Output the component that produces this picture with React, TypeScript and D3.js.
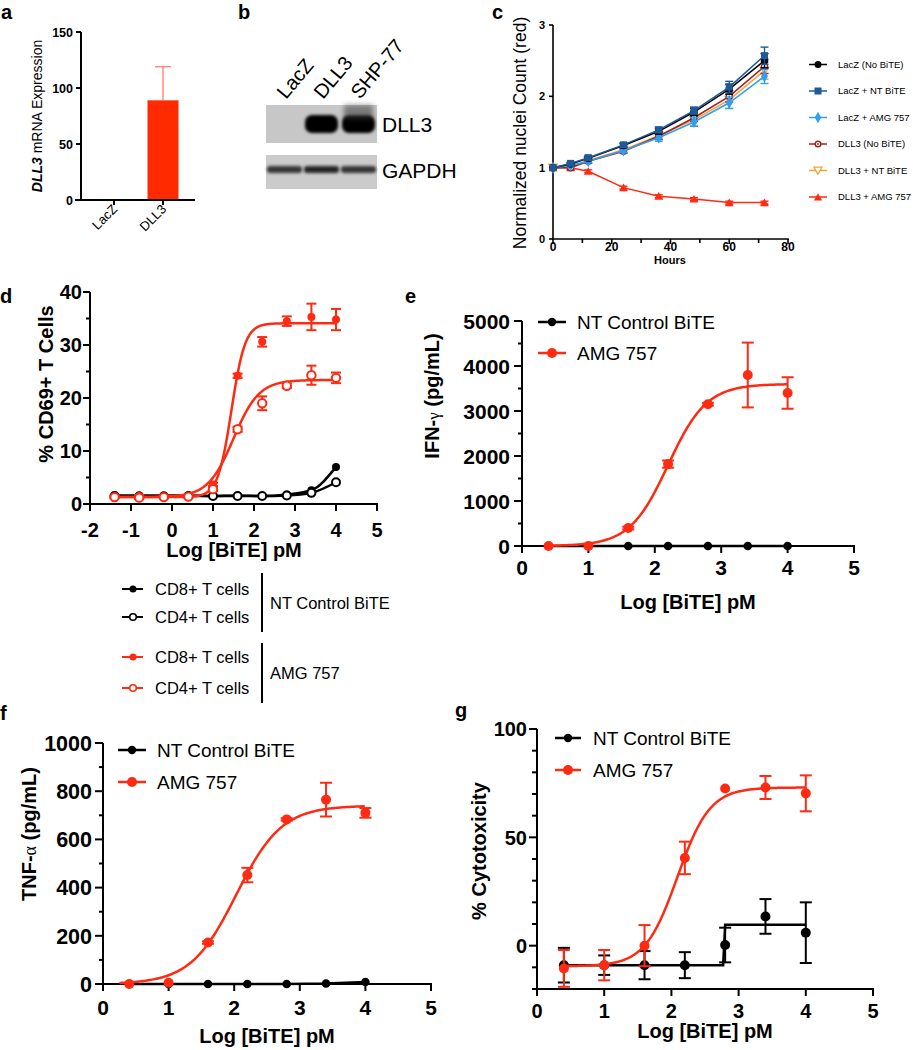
import React from 'react';
import * as d3 from 'd3';

const FONT = '"Liberation Sans", Arial, Helvetica, sans-serif';
const RED = '#ff2a12';
const BLK = '#000000';

// ---------- Panel a : DLL3 mRNA expression
const aCategories = ['LacZ', 'DLL3'];
const aValues = [0.8, 89];
const aErrors = [0, 30];
const aTicks = [0, 50, 100, 150];

// ---------- Panel b : western blot
const bLanes = ['LacZ', 'DLL3', 'SHP-77'];
const bDll3Band = [0, 1, 1];
const bGapdhBand = [0.85, 0.95, 0.85];
const bRowLabels = ['DLL3', 'GAPDH'];

// ---------- Panel c : nuclei count over time
const cHours = [0, 6, 12, 24, 36, 48, 60, 72];
const cNames = ['LacZ (No BiTE)', 'LacZ + NT BiTE', 'LacZ + AMG 757', 'DLL3 (No BiTE)', 'DLL3 + NT BiTE', 'DLL3 + AMG 757'];
const cLacZNo = [1, 1.05, 1.13, 1.31, 1.51, 1.78, 2.1, 2.5];
const cLacZNT = [1, 1.06, 1.14, 1.32, 1.53, 1.8, 2.13, 2.57];
const cLacZAMG = [1, 1.03, 1.09, 1.24, 1.42, 1.64, 1.91, 2.28];
const cDLL3No = [1, 1.0, 1.09, 1.23, 1.44, 1.7, 2.0, 2.42];
const cDLL3NT = [1, 1.01, 1.1, 1.25, 1.45, 1.67, 1.95, 2.36];
const cDLL3AMG = [1, 1.0, 0.95, 0.72, 0.6, 0.56, 0.51, 0.51];
const cLacZNoErr = [0, 0.02, 0.02, 0.03, 0.04, 0.05, 0.07, 0.1];
const cLacZNTErr = [0, 0.02, 0.03, 0.03, 0.04, 0.05, 0.08, 0.12];
const cLacZAMGErr = [0, 0.02, 0.02, 0.03, 0.05, 0.06, 0.08, 0.1];
const cDLL3NoErr = [0, 0.03, 0.03, 0.03, 0.04, 0.05, 0.08, 0.1];
const cDLL3NTErr = [0, 0.02, 0.03, 0.04, 0.06, 0.08, 0.12, 0.12];
const cDLL3AMGErr = [0, 0.01, 0.02, 0.02, 0.02, 0.02, 0.02, 0.02];
const cColors = ['#000000', '#1c5a99', '#2f9ff0', '#a3201c', '#f5a23a', '#ff2a12'];
const cSymbols = ['circle', 'square', 'diamond', 'ocircle', 'otridown', 'tri'];
const cXTicks = [0, 20, 40, 60, 80];
const cXMinor = [10, 30, 50, 70];
const cYTicks = [0, 1, 2, 3];

// ---------- Panel d : CD69+ T cells
const dX = [-1.4, -0.8, -0.2, 0.4, 1.0, 1.6, 2.2, 2.8, 3.4, 4.0];
const dRedCD8 = [1.4, 1.5, 1.4, 1.5, 3.7, 24.2, 30.6, 34.5, 35.3, 34.8];
const dRedCD8Err = [0.2, 0.2, 0.2, 0.2, 0.3, 0.4, 0.9, 0.9, 2.5, 2.0];
const dRedCD4 = [1.3, 1.2, 1.3, 1.4, 2.8, 14.1, 19.0, 22.3, 24.3, 23.8];
const dRedCD4Err = [0.2, 0.2, 0.2, 0.2, 0.3, 0.5, 1.3, 0.4, 1.8, 1.0];
const dBlackCD8 = [1.6, 1.6, 1.6, 1.6, 1.5, 1.6, 1.5, 1.8, 2.6, 7.0];
const dBlackCD4 = [1.5, 1.4, 1.4, 1.5, 1.5, 1.5, 1.5, 1.6, 2.1, 4.1];
const dFitCD8 = [1.3, 34.1, 1.45, 2.6]; // bottom, top, logEC50, hill
const dFitCD4 = [1.3, 23.4, 1.5, 1.4];
const dXTicks = [-2, -1, 0, 1, 2, 3, 4, 5];
const dYTicks = [0, 10, 20, 30, 40];
const dYMinor = [5, 15, 25, 35];
const dLegendRows = ['CD8+ T cells', 'CD4+ T cells', 'CD8+ T cells', 'CD4+ T cells'];
const dLegendGroups = ['NT Control BiTE', 'AMG 757'];

// ---------- Panels e, f, g
const eX = [0.4, 1.0, 1.6, 2.2, 2.8, 3.4, 4.0];
const eRed = [0, 0, 400, 1820, 3150, 3800, 3400];
const eRedErr = [0, 0, 30, 80, 30, 720, 350];
const eBlack = [0, 0, 0, 0, 0, 0, 0];
const eFit = [0, 3600, 2.2, 1.5];
const eYTicks = [0, 1000, 2000, 3000, 4000, 5000];
const eYMinor = [500, 1500, 2500, 3500, 4500];

const fRed = [0, 5, 172, 452, 683, 765, 710];
const fRedErr = [0, 0, 5, 30, 5, 70, 20];
const fBlack = [0, 0, 0, 0, 0, 2, 8];
const fFit = [0, 740, 2.03, 1.25];
const fYTicks = [0, 200, 400, 600, 800, 1000];
const fYMinor = [100, 300, 500, 700, 900];

const gRed = [-10.5, -9, 0, 40.5, 72.5, 73, 70.3];
const gRedErr = [8.5, 7, 9.5, 7.5, 0, 5.3, 8.3];
const gBlack = [-9, -9, -9, -9, 0.3, 13.5, 6];
const gBlackErr = [8, 4.5, 6.5, 6, 8, 8, 14];
const gFit = [-9.5, 73, 2.09, 1.8];
const gStepX = [0.4, 2.77, 2.8, 4.0];
const gStepY = [-9, -9, 9.7, 9.7];
const gYTicks = [0, 50, 100];
const gYMinor = [-20, -10, 10, 20, 30, 40, 60, 70, 80, 90];

const xTicks05 = [0, 1, 2, 3, 4, 5];
const legendNames = ['NT Control BiTE', 'AMG 757'];

const fourPL = (p: number[]) => (x: number) => p[0] + (p[1] - p[0]) / (1 + Math.pow(10, (p[2] - x) * p[3]));

function linePath(xs: number[], ys: number[], sx: any, sy: any, curve: any = d3.curveLinear) {
  return d3.line<number>().x((_, i) => sx(xs[i])).y((d) => sy(d)).curve(curve)(ys) || '';
}
function fitPath(p: number[], x0: number, x1: number, sx: any, sy: any) {
  const xs = d3.range(x0, x1 + 1e-9, 0.02);
  const f = fourPL(p);
  return linePath(xs, xs.map(f), sx, sy);
}

function YAxis({ sy, x, ticks, minor = [], fs, tl = 7, mtl = 4, sw = 2, lo, bold = true }: any) {
  const [r0, r1] = sy.range();
  return (
    <g>
      <line x1={x} x2={x} y1={r0 + sw / 2} y2={r1} stroke={BLK} strokeWidth={sw} />
      {ticks.map((t: number) => (
        <g key={'t' + t}>
          <line x1={x - tl} x2={x} y1={sy(t)} y2={sy(t)} stroke={BLK} strokeWidth={sw} />
          <text x={x - lo} y={sy(t)} dy="0.36em" textAnchor="end" fontSize={fs} fontWeight={bold ? 'bold' : 'normal'}>{t}</text>
        </g>
      ))}
      {minor.map((t: number) => (
        <line key={'m' + t} x1={x - mtl} x2={x} y1={sy(t)} y2={sy(t)} stroke={BLK} strokeWidth={sw} />
      ))}
    </g>
  );
}
function XAxis({ sx, y, ticks, minor = [], fs, tl = 7, mtl = 4, sw = 2, lo }: any) {
  const [r0, r1] = sx.range();
  return (
    <g>
      <line x1={r0 - sw / 2} x2={r1 + sw / 2} y1={y} y2={y} stroke={BLK} strokeWidth={sw} />
      {ticks.map((t: number) => (
        <g key={'t' + t}>
          <line x1={sx(t)} x2={sx(t)} y1={y} y2={y + tl} stroke={BLK} strokeWidth={sw} />
          <text x={sx(t)} y={y + lo} textAnchor="middle" fontSize={fs} fontWeight="bold">{t}</text>
        </g>
      ))}
      {minor.map((t: number) => (
        <line key={'m' + t} x1={sx(t)} x2={sx(t)} y1={y} y2={y + mtl} stroke={BLK} strokeWidth={sw} />
      ))}
    </g>
  );
}

function ErrBars({ xs, ys, es, sx, sy, color, sw = 2, cap = 6 }: any) {
  return (
    <g stroke={color} strokeWidth={sw} fill="none">
      {ys.map((v: number, i: number) => {
        const e = es[i];
        if (!e || Math.abs(sy(v - e) - sy(v + e)) < 2) return null;
        const x = sx(xs[i]);
        return (
          <g key={i}>
            <line x1={x} x2={x} y1={sy(v - e)} y2={sy(v + e)} />
            <line x1={x - cap} x2={x + cap} y1={sy(v + e)} y2={sy(v + e)} />
            <line x1={x - cap} x2={x + cap} y1={sy(v - e)} y2={sy(v - e)} />
          </g>
        );
      })}
    </g>
  );
}

function Marker({ type, x, y, color, size }: any) {
  const s = size;
  if (type === 'circle') return <circle cx={x} cy={y} r={s / 2} fill={color} />;
  if (type === 'ocircle')
    return (
      <g>
        <circle cx={x} cy={y} r={s / 2 - 0.7} fill="#fff" stroke={color} strokeWidth={1.4} />
        <circle cx={x} cy={y} r={0.9} fill={color} />
      </g>
    );
  if (type === 'square') return <rect x={x - s / 2} y={y - s / 2} width={s} height={s} fill={color} />;
  if (type === 'diamond')
    return <path transform={`translate(${x},${y})`} d={d3.symbol(d3.symbolDiamond, s * s * 0.75)() || ''} fill={color} />;
  if (type === 'tri')
    return <path transform={`translate(${x},${y + 1})`} d={d3.symbol(d3.symbolTriangle, s * s * 0.6)() || ''} fill={color} />;
  if (type === 'otridown')
    return (
      <path transform={`translate(${x},${y - 1}) rotate(180)`} d={d3.symbol(d3.symbolTriangle, s * s * 0.55)() || ''} fill="#fff" stroke={color} strokeWidth={1.3} />
    );
  return null;
}

function Dots({ xs, ys, sx, sy, color, r = 5, open = false }: any) {
  return (
    <g>
      {ys.map((v: number, i: number) =>
        open ? (
          <circle key={i} cx={sx(xs[i])} cy={sy(v)} r={r} fill="#fff" stroke={color} strokeWidth={2} />
        ) : (
          <circle key={i} cx={sx(xs[i])} cy={sy(v)} r={r} fill={color} />
        )
      )}
    </g>
  );
}

function PanelLabel({ x, y, t }: any) {
  return <text x={x} y={y} fontSize={20} fontWeight="bold">{t}</text>;
}

function LegendTwo({ x0, x1, ys, tx, fs }: any) {
  const cols = [BLK, RED];
  return (
    <g>
      {legendNames.map((n, i) => (
        <g key={n}>
          <line x1={x0} x2={x1} y1={ys[i]} y2={ys[i]} stroke={cols[i]} strokeWidth={2.5} />
          <circle cx={(x0 + x1) / 2} cy={ys[i]} r={i === 0 ? 4.2 : 5} fill={cols[i]} />
          <text x={tx} y={ys[i]} dy="0.36em" fontSize={fs}>{n}</text>
        </g>
      ))}
    </g>
  );
}

export default function App() {
  // ----- a
  const aY = d3.scaleLinear().domain([0, 150]).range([200, 32]);
  const aX = d3.scalePoint().domain(aCategories).range([114, 163]);
  const aBarW = 31;

  // ----- b
  const bX = d3.scaleBand().domain(bLanes).range([266, 377]);

  // ----- c
  const cX = d3.scaleLinear().domain([0, 80]).range([553, 788]);
  const cY = d3.scaleLinear().domain([0, 3]).range([239, 25]);
  const cData = [cLacZNo, cLacZNT, cLacZAMG, cDLL3No, cDLL3NT, cDLL3AMG];
  const cErr = [cLacZNoErr, cLacZNTErr, cLacZAMGErr, cDLL3NoErr, cDLL3NTErr, cDLL3AMGErr];
  const cOrder = [5, 4, 3, 2, 0, 1];
  const cLegendY = d3.scalePoint().domain(cNames).range([64.5, 197]);

  // ----- d
  const dXs = d3.scaleLinear().domain([-2, 5]).range([90, 377]);
  const dYs = d3.scaleLinear().domain([0, 40]).range([504, 292]);

  // ----- e
  const eXs = d3.scaleLinear().domain([0, 5]).range([522, 854]);
  const eYs = d3.scaleLinear().domain([0, 5000]).range([546, 321]);

  // ----- f
  const fXs = d3.scaleLinear().domain([0, 5]).range([103, 431]);
  const fYs = d3.scaleLinear().domain([0, 1000]).range([984, 743]);

  // ----- g
  const gXs = d3.scaleLinear().domain([0, 5]).range([537, 873]);
  const gYs = d3.scaleLinear().domain([-20, 100]).range([989, 729]);

  return (
    <svg width={923} height={1050} viewBox="0 0 923 1050" style={{ position: 'absolute', left: 0, top: 0, background: '#fff' }} fontFamily={FONT}>
      <defs>
        <filter id="blurB" x="-20%" y="-50%" width="140%" height="200%">
          <feGaussianBlur stdDeviation="1.6" />
        </filter>
        <filter id="blurS" x="-20%" y="-50%" width="140%" height="200%">
          <feGaussianBlur stdDeviation="2.5" />
        </filter>
      </defs>
      <rect x={0} y={0} width={923} height={1050} fill="#fff" />

      {/* ================= a ================= */}
      <PanelLabel x={1} y={19} t="a" />
      <g>
        {aCategories.map((c, i) => (
          <rect key={c} x={(aX(c) as number) - aBarW / 2} y={aY(aValues[i])} width={aBarW} height={aY(0) - aY(aValues[i])} fill={i === 0 ? '#333' : '#ff2a00'} />
        ))}
        {aCategories.map((c, i) =>
          aErrors[i] ? (
            <g key={'e' + c} stroke="#ff8a80" strokeWidth={1.5}>
              <line x1={aX(c)} x2={aX(c)} y1={aY(aValues[i])} y2={aY(aValues[i] + aErrors[i])} />
              <line x1={(aX(c) as number) - 8} x2={(aX(c) as number) + 8} y1={aY(aValues[i] + aErrors[i])} y2={aY(aValues[i] + aErrors[i])} />
            </g>
          ) : null
        )}
        <YAxis sy={aY} x={81} ticks={aTicks} fs={12.5} tl={5} lo={8} sw={2} />
        <line x1={75} x2={195} y1={200} y2={200} stroke={BLK} strokeWidth={2} />
        {aCategories.map((c) => (
          <g key={'xt' + c}>
            <line x1={aX(c)} x2={aX(c)} y1={200} y2={205} stroke={BLK} strokeWidth={2} />
            <text transform={`translate(${(aX(c) as number) + 4},${210}) rotate(-45)`} textAnchor="end" fontSize={13}>{c}</text>
          </g>
        ))}
        <text transform="translate(42,116) rotate(-90)" textAnchor="middle" fontSize={14}>
          <tspan fontStyle="italic" fontWeight="bold">DLL3</tspan>
          <tspan> mRNA Expression</tspan>
        </text>
      </g>

      {/* ================= b ================= */}
      <PanelLabel x={238} y={19} t="b" />
      <g>
        {bLanes.map((l) => (
          <text key={l} transform={`translate(${(bX(l) as number) + 20},${100}) rotate(-50)`} fontSize={20}>{l}</text>
        ))}
        <rect x={266} y={105} width={111} height={38} fill="#c7c7c7" />
        {bLanes.map((l, i) =>
          bDll3Band[i] > 0 ? (
            <g key={'d' + l}>
              <rect x={(bX(l) as number) + 2} y={115} width={bX.bandwidth() - 4} height={18} rx={7} fill="#000" opacity={bDll3Band[i]} filter="url(#blurB)" />
              {i === 2 ? <rect x={(bX(l) as number) + 4} y={105} width={bX.bandwidth() - 8} height={14} fill="#3a3a3a" opacity={0.55} filter="url(#blurS)" /> : null}
            </g>
          ) : null
        )}
        <rect x={266} y={155} width={111} height={34} fill="#cbcbcb" />
        {bLanes.map((l, i) => (
          <rect key={'g' + l} x={(bX(l) as number) + 1} y={166} width={bX.bandwidth() - 2} height={7} rx={3} fill="#1a1a1a" opacity={bGapdhBand[i]} filter="url(#blurB)" />
        ))}
        <text x={382} y={132} fontSize={21}>{bRowLabels[0]}</text>
        <text x={382} y={178} fontSize={21}>{bRowLabels[1]}</text>
      </g>

      {/* ================= c ================= */}
      <PanelLabel x={492} y={19} t="c" />
      <g>
        <text transform="translate(526,133) rotate(-90)" textAnchor="middle" fontSize={17.5}>Normalized nuclei Count (red)</text>
        <YAxis sy={cY} x={553} ticks={cYTicks} fs={11} tl={4} lo={8} sw={1.6} />
        <XAxis sx={cX} y={239} ticks={cXTicks} minor={cXMinor} fs={12} tl={5} mtl={4} lo={12} sw={1.6} />
        <text x={670} y={264} textAnchor="middle" fontSize={11} fontWeight="bold">Hours</text>
        {cOrder.map((k) => (
          <g key={'c' + k}>
            <ErrBars xs={cHours} ys={cData[k]} es={cErr[k]} sx={cX} sy={cY} color={cColors[k]} sw={1.4} cap={4} />
            <path d={linePath(cHours, cData[k], cX, cY)} fill="none" stroke={cColors[k]} strokeWidth={1.5} />
            {cData[k].map((v, i) => (
              <Marker key={i} type={cSymbols[k]} x={cX(cHours[i])} y={cY(v)} color={cColors[k]} size={k === 1 ? 7 : 7.5} />
            ))}
          </g>
        ))}
        {cNames.map((n, k) => (
          <g key={'cl' + k}>
            <line x1={809} x2={827} y1={cLegendY(n)} y2={cLegendY(n)} stroke={cColors[k]} strokeWidth={1.5} />
            <Marker type={cSymbols[k]} x={818} y={cLegendY(n) as number} color={cColors[k]} size={7} />
            <text x={838} y={cLegendY(n)} dy="0.36em" fontSize={9.5}>{n}</text>
          </g>
        ))}
      </g>

      {/* ================= d ================= */}
      <PanelLabel x={0} y={303} t="d" />
      <g>
        <path d={linePath(dX, dBlackCD8, dXs, dYs, d3.curveMonotoneX)} fill="none" stroke={BLK} strokeWidth={2.5} />
        <path d={linePath(dX, dBlackCD4, dXs, dYs, d3.curveMonotoneX)} fill="none" stroke={BLK} strokeWidth={2.5} />
        <Dots xs={dX} ys={dBlackCD8} sx={dXs} sy={dYs} color={BLK} r={4} />
        <Dots xs={dX} ys={dBlackCD4} sx={dXs} sy={dYs} color={BLK} r={4} open />
        <path d={fitPath(dFitCD8, -1.45, 4.0, dXs, dYs)} fill="none" stroke={RED} strokeWidth={2.5} />
        <path d={fitPath(dFitCD4, -1.45, 4.0, dXs, dYs)} fill="none" stroke={RED} strokeWidth={2.5} />
        <ErrBars xs={dX} ys={dRedCD8} es={dRedCD8Err} sx={dXs} sy={dYs} color={RED} cap={5} />
        <ErrBars xs={dX} ys={dRedCD4} es={dRedCD4Err} sx={dXs} sy={dYs} color={RED} cap={5} />
        <Dots xs={dX} ys={dRedCD8} sx={dXs} sy={dYs} color={RED} r={4} />
        <Dots xs={dX} ys={dRedCD4} sx={dXs} sy={dYs} color={RED} r={4.2} open />
        <YAxis sy={dYs} x={90} ticks={dYTicks} minor={dYMinor} fs={20} tl={7} mtl={4} lo={8} />
        <XAxis sx={dXs} y={504} ticks={dXTicks} fs={20} tl={7} lo={33} />
        <text x={234} y={557} textAnchor="middle" fontSize={20} fontWeight="bold">Log [BiTE] pM</text>
        <text transform="translate(53,384) rotate(-90)" textAnchor="middle" fontSize={20} fontWeight="bold">% CD69+ T Cells</text>
        {/* legend */}
        {dLegendRows.map((n, i) => {
          const ly = [589, 617, 657, 688][i];
          const col = i < 2 ? BLK : RED;
          return (
            <g key={'dl' + i}>
              <line x1={122} x2={143} y1={ly} y2={ly} stroke={col} strokeWidth={2} />
              {i % 2 === 0 ? (
                <circle cx={133} cy={ly} r={3.5} fill={col} />
              ) : (
                <circle cx={133} cy={ly} r={3.3} fill="#fff" stroke={col} strokeWidth={1.6} />
              )}
              <text x={155} y={ly} dy="0.36em" fontSize={16.5}>{n}</text>
            </g>
          );
        })}
        <line x1={262} x2={262} y1={573} y2={632} stroke={BLK} strokeWidth={2} />
        <line x1={262} x2={262} y1={643} y2={703} stroke={BLK} strokeWidth={2} />
        <text x={270} y={603} dy="0.36em" fontSize={16.5}>{dLegendGroups[0]}</text>
        <text x={270} y={673} dy="0.36em" fontSize={16.5}>{dLegendGroups[1]}</text>
      </g>

      {/* ================= e ================= */}
      <PanelLabel x={405} y={303} t="e" />
      <g>
        <YAxis sy={eYs} x={522} ticks={eYTicks} minor={eYMinor} fs={21} tl={8} mtl={4} lo={12} />
        <XAxis sx={eXs} y={546} ticks={xTicks05} fs={21} tl={7} lo={29} />
        <path d={linePath(eX, eBlack, eXs, eYs)} fill="none" stroke={BLK} strokeWidth={2.5} />
        <Dots xs={eX} ys={eBlack} sx={eXs} sy={eYs} color={BLK} r={4.3} />
        <path d={fitPath(eFit, 0.4, 4.0, eXs, eYs)} fill="none" stroke={RED} strokeWidth={2.5} />
        <ErrBars xs={eX} ys={eRed} es={eRedErr} sx={eXs} sy={eYs} color={RED} cap={6} />
        <Dots xs={eX} ys={eRed} sx={eXs} sy={eYs} color={RED} r={5} />
        <text x={688} y={609} textAnchor="middle" fontSize={20} fontWeight="bold">Log [BiTE] pM</text>
        <text transform="translate(439,396) rotate(-90)" textAnchor="middle" fontSize={20} fontWeight="bold">
          <tspan>IFN-</tspan>
          <tspan fontFamily='"Liberation Serif", serif' fontWeight="normal" fontSize={17}>γ</tspan>
          <tspan> (pg/mL)</tspan>
        </text>
        <LegendTwo x0={538} x1={566} ys={[322, 353]} tx={577} fs={19} />
      </g>

      {/* ================= f ================= */}
      <PanelLabel x={0} y={720} t="f" />
      <g>
        <YAxis sy={fYs} x={103} ticks={fYTicks} minor={fYMinor} fs={21.5} tl={8} mtl={4} lo={11} />
        <XAxis sx={fXs} y={984} ticks={xTicks05} fs={21} tl={7} lo={31} />
        <path d={linePath(eX, fBlack, fXs, fYs)} fill="none" stroke={BLK} strokeWidth={2.5} />
        <Dots xs={eX} ys={fBlack} sx={fXs} sy={fYs} color={BLK} r={4.3} />
        <path d={fitPath(fFit, 0.25, 4.0, fXs, fYs)} fill="none" stroke={RED} strokeWidth={2.5} />
        <ErrBars xs={eX} ys={fRed} es={fRedErr} sx={fXs} sy={fYs} color={RED} cap={6} />
        <Dots xs={eX} ys={fRed} sx={fXs} sy={fYs} color={RED} r={5} />
        <text x={267} y={1043} textAnchor="middle" fontSize={20} fontWeight="bold">Log [BiTE] pM</text>
        <text transform="translate(36,834) rotate(-90)" textAnchor="middle" fontSize={20} fontWeight="bold">
          <tspan>TNF-</tspan>
          <tspan fontFamily='"Liberation Serif", serif' fontWeight="normal" fontSize={18}>α</tspan>
          <tspan> (pg/mL)</tspan>
        </text>
        <LegendTwo x0={118} x1={146} ys={[750, 782]} tx={157} fs={19} />
      </g>

      {/* ================= g ================= */}
      <PanelLabel x={455} y={717} t="g" />
      <g>
        <YAxis sy={gYs} x={537} ticks={gYTicks} minor={gYMinor} fs={20} tl={8} mtl={5} lo={10} />
        <XAxis sx={gXs} y={989} ticks={xTicks05} fs={20} tl={7} lo={29} />
        <path d={linePath(gStepX, gStepY, gXs, gYs)} fill="none" stroke={BLK} strokeWidth={2.5} />
        <ErrBars xs={eX} ys={gBlack} es={gBlackErr} sx={gXs} sy={gYs} color={BLK} cap={6} />
        <Dots xs={eX} ys={gBlack} sx={gXs} sy={gYs} color={BLK} r={5} />
        <path d={fitPath(gFit, 0.4, 4.0, gXs, gYs)} fill="none" stroke={RED} strokeWidth={2.5} />
        <ErrBars xs={eX} ys={gRed} es={gRedErr} sx={gXs} sy={gYs} color={RED} cap={6} />
        <Dots xs={eX} ys={gRed} sx={gXs} sy={gYs} color={RED} r={5} />
        <text x={705} y={1038} textAnchor="middle" fontSize={20} fontWeight="bold">Log [BiTE] pM</text>
        <text transform="translate(486,851) rotate(-90)" textAnchor="middle" fontSize={20} fontWeight="bold">% Cytotoxicity</text>
        <LegendTwo x0={555} x1={581} ys={[738, 770]} tx={593} fs={19} />
      </g>
    </svg>
  );
}
